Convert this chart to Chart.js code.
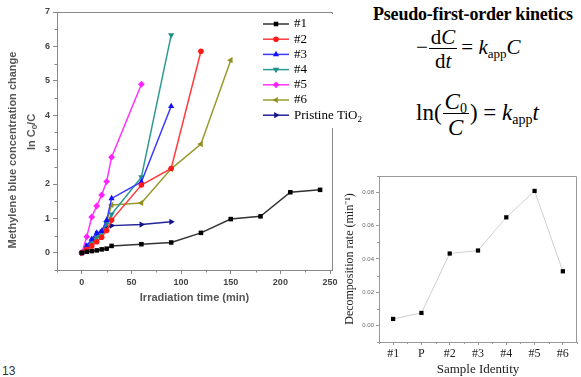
<!DOCTYPE html>
<html>
<head>
<meta charset="utf-8">
<script src="https://cdn.jsdelivr.net/npm/chart.js@4.4.1/dist/chart.umd.min.js"></script>
<style>
body{margin:0;width:581px;height:377px;background:#fff;position:relative;overflow:hidden;font-family:"Liberation Serif",serif;color:#000}
canvas{position:absolute}
#main{left:0;top:0}
#inset{left:340px;top:170px}
.eq{position:absolute;white-space:nowrap;font-family:"Liberation Serif",serif;font-size:21px;line-height:1}
.frac{display:inline-block;vertical-align:middle;text-align:center;margin:0 4px 0 1px}
.frac span{display:block;padding:0 2px}
.frac .den{border-top:1px solid #000;padding-top:2px}
sub{font-size:13px;vertical-align:-4px;line-height:0}
#eq2 sub{font-size:14px}
#title{position:absolute;left:373px;top:4px;font:bold 18px "Liberation Serif",serif;letter-spacing:-0.2px;white-space:nowrap}
#page{position:absolute;left:2px;top:364px;font:12px "Liberation Sans",sans-serif;color:#333}
</style>
</head>
<body>
<canvas id="main" width="370" height="315"></canvas>
<canvas id="inset" width="241" height="207"></canvas>
<div id="title">Pseudo-first-order kinetics</div>
<div class="eq" id="eq1" style="left:416px;top:27px">&minus;<span class="frac"><span>d<i>C</i></span><span class="den">d<i>t</i></span></span>= <i>k</i><sub>app</sub><i>C</i></div>
<div class="eq" id="eq2" style="left:416px;top:90px;font-size:23px">ln(<span class="frac" style="margin:0 1px"><span><i>C</i><sub>0</sub></span><span class="den"><i>C</i></span></span>) = <i>k</i><sub>app</sub><i>t</i></div>
<div id="page">13</div>
<script>
// main chart: ln(C0/C) vs irradiation time
var xTicks = [0, 50, 100, 150, 200, 250];
var yTicks = [0, 1, 2, 3, 4, 5, 6, 7];
var seriesNames = ['#1', '#2', '#3', '#4', '#5', '#6', 'Pristine TiO2'];

var t1 = [0, 5, 10, 15, 20, 25, 30, 60, 90, 120, 150, 180, 210, 240];
var s1 = [0, 0.03, 0.05, 0.07, 0.1, 0.12, 0.2, 0.25, 0.3, 0.58, 0.98, 1.06, 1.76, 1.83];
var t2 = [0, 5, 10, 15, 20, 25, 30, 60, 90, 120];
var s2 = [0, 0.1, 0.2, 0.32, 0.45, 0.65, 0.95, 1.97, 2.45, 5.86];
var t3 = [0, 5, 10, 15, 20, 25, 30, 60, 90];
var s3 = [0, 0.2, 0.4, 0.58, 0.63, 0.95, 1.58, 2.06, 4.26];
var t4 = [0, 5, 10, 15, 20, 25, 30, 60, 90];
var s4 = [0, 0.15, 0.3, 0.45, 0.6, 0.85, 1.12, 2.2, 6.33];
var t5 = [0, 5, 10, 15, 20, 25, 30, 60];
var s5 = [0, 0.47, 1.04, 1.36, 1.68, 2.07, 2.78, 4.9];
var t6 = [0, 5, 10, 15, 20, 25, 30, 60, 90, 120, 150];
var s6 = [0, 0.1, 0.25, 0.4, 0.6, 0.9, 1.39, 1.45, 2.44, 3.16, 5.6];
var tP = [0, 5, 10, 15, 20, 25, 30, 60, 90];
var sP = [0, 0.2, 0.35, 0.55, 0.6, 0.75, 0.79, 0.82, 0.9];

// inset: decomposition rate per sample
var samples = ['#1', 'P', '#2', '#3', '#4', '#5', '#6'];
var rates = [0.0039, 0.0075, 0.0433, 0.0451, 0.0651, 0.081, 0.0326];
var rateTicks = [0, 0.02, 0.04, 0.06, 0.08];

function pts(xs, ys) {
    var out = [];
    for (var i = 0; i < xs.length; i++) out.push({x: xs[i], y: ys[i]});
    return out;
}

function series(name, xs, ys, line, mark, style, rot, r) {
    return {
        label: name, data: pts(xs, ys),
        borderColor: line, backgroundColor: mark,
        pointBackgroundColor: mark, pointBorderWidth: 0,
        pointStyle: style, pointRotation: rot, pointRadius: r,
        borderWidth: 1.5, tension: 0
    };
}

var sans = '"Liberation Sans", Arial, sans-serif';
var serif = '"Liberation Serif", "Times New Roman", serif';

var mainDecor = {
    id: 'mainDecor',
    afterDraw: function (chart) {
        var ctx = chart.ctx, a = chart.chartArea;
        var xs = chart.scales.x, ys = chart.scales.y;
        ctx.save();
        ctx.strokeStyle = '#888';
        ctx.lineWidth = 1;
        ctx.beginPath();
        ctx.moveTo(a.left, a.top + 0.5);
        ctx.lineTo(a.right + 0.5, a.top + 0.5);
        ctx.lineTo(a.right + 0.5, a.bottom);
        ctx.stroke();
        // minor ticks
        ctx.beginPath();
        for (var v = -25; v <= 250; v += 50) {
            var px = Math.round(xs.getPixelForValue(v)) + 0.5;
            ctx.moveTo(px, a.bottom); ctx.lineTo(px, a.bottom + 2.5);
        }
        for (var w = -0.5; w <= 7; w += 1) {
            var py = Math.round(ys.getPixelForValue(w)) + 0.5;
            ctx.moveTo(a.left, py); ctx.lineTo(a.left - 2.5, py);
        }
        ctx.stroke();

        // legend box
        ctx.fillStyle = '#fff';
        ctx.fillRect(322, 14, 48, 114);
        chart.data.datasets.forEach(function (d, i) {
            var y = 24 + i * 15.2;
            ctx.strokeStyle = d.borderColor;
            ctx.lineWidth = 1.5;
            ctx.beginPath(); ctx.moveTo(263, y); ctx.lineTo(289, y); ctx.stroke();
            ctx.fillStyle = d.pointBackgroundColor;
            Chart.helpers.drawPoint(ctx, {pointStyle: d.pointStyle, rotation: d.pointRotation, radius: d.pointRadius, borderWidth: 0}, 276, y);
            ctx.fillStyle = '#000';
            ctx.textBaseline = 'middle';
            ctx.textAlign = 'left';
            ctx.font = '13px ' + serif;
            if (d.label.slice(-1) === '2' && d.label.indexOf('TiO') >= 0) {
                var base = d.label.slice(0, -1);
                ctx.fillText(base, 294, y);
                var wdt = ctx.measureText(base).width;
                ctx.font = '9px ' + serif;
                ctx.fillText('2', 294 + wdt, y + 4);
            } else {
                ctx.fillText(d.label, 294, y);
            }
        });

        // y axis title, two lines
        ctx.fillStyle = '#555';
        ctx.font = 'bold 11px ' + sans;
        ctx.textAlign = 'center';
        ctx.textBaseline = 'middle';
        ctx.save();
        ctx.translate(13, 150);
        ctx.rotate(-Math.PI / 2);
        ctx.fillText('Methylene blue concentration change', 0, 0);
        ctx.restore();
        ctx.save();
        ctx.translate(32, 132);
        ctx.rotate(-Math.PI / 2);
        ctx.textAlign = 'left';
        var p1 = 'ln C', p3 = '/C';
        var w1 = ctx.measureText(p1).width, w3 = ctx.measureText(p3).width;
        ctx.font = 'bold 8px ' + sans;
        var w2 = ctx.measureText('0').width;
        var x0 = -(w1 + w2 + w3) / 2;
        ctx.font = 'bold 11px ' + sans;
        ctx.fillText(p1, x0, 0);
        ctx.font = 'bold 8px ' + sans;
        ctx.fillText('0', x0 + w1, 3);
        ctx.font = 'bold 11px ' + sans;
        ctx.fillText(p3, x0 + w1 + w2, 0);
        ctx.restore();
        ctx.restore();
    }
};

var datasets = [
    series(seriesNames[0], t1, s1, '#333333', '#000000', 'rect', 0, 3.2),
    series(seriesNames[1], t2, s2, '#ff3b3b', '#ff1a1a', 'circle', 0, 2.8),
    series(seriesNames[2], t3, s3, '#3a3aff', '#1010ff', 'triangle', 0, 3.6),
    series(seriesNames[3], t4, s4, '#2f9a94', '#1f8f8a', 'triangle', 180, 3.6),
    series(seriesNames[4], t5, s5, '#ff33ff', '#ff22ff', 'rectRot', 0, 3.4),
    series(seriesNames[5], t6, s6, '#9a9a30', '#8f8f20', 'triangle', 270, 3.6),
    series(seriesNames[6], tP, sP, '#22229a', '#141488', 'triangle', 90, 3.6)
];

new Chart(document.getElementById('main').getContext('2d'), {
    type: 'line',
    data: {datasets: datasets},
    options: {
        responsive: false,
        animation: false,
        layout: {padding: {top: 12, right: 38, left: 0, bottom: 0}},
        plugins: {legend: {display: false}, tooltip: {enabled: false}},
        scales: {
            x: {
                type: 'linear', min: -25, max: 252,
                afterBuildTicks: function (s) { s.ticks = xTicks.map(function (v) { return {value: v}; }); },
                afterFit: function (s) { s.height = 45; },
                grid: {drawOnChartArea: false, tickLength: 4, color: '#888'},
                border: {color: '#888'},
                ticks: {font: {family: sans, weight: 'bold', size: 9}, color: '#444', padding: 3, maxRotation: 0},
                title: {display: true, text: 'Irradiation time (min)', color: '#555',
                    font: {family: sans, weight: 'bold', size: 11}, padding: {top: 0, bottom: 10}}
            },
            y: {
                type: 'linear', min: -0.5, max: 7,
                afterBuildTicks: function (s) { s.ticks = yTicks.map(function (v) { return {value: v}; }); },
                afterFit: function (s) { s.width = 57; },
                grid: {drawOnChartArea: false, tickLength: 4, color: '#888'},
                border: {color: '#888'},
                ticks: {font: {family: sans, weight: 'bold', size: 9}, color: '#444', padding: 3}
            }
        }
    },
    plugins: [mainDecor]
});

var insetDecor = {
    id: 'insetDecor',
    afterDraw: function (chart) {
        var ctx = chart.ctx, a = chart.chartArea;
        var xs = chart.scales.x, ys = chart.scales.y;
        ctx.save();
        ctx.strokeStyle = '#999';
        ctx.lineWidth = 1;
        ctx.beginPath();
        ctx.moveTo(a.left, a.top + 0.5);
        ctx.lineTo(a.right - 0.5, a.top + 0.5);
        ctx.lineTo(a.right - 0.5, a.bottom);
        ctx.stroke();
        ctx.beginPath();
        for (var i = 0; i <= samples.length; i++) {
            var px = Math.round(xs.getPixelForValue(i - 0.5)) + 0.5;
            ctx.moveTo(px, a.bottom); ctx.lineTo(px, a.bottom + 2);
        }
        for (var v = -0.01; v <= 0.0901; v += 0.02) {
            var py = Math.round(ys.getPixelForValue(v)) + 0.5;
            ctx.moveTo(a.left, py); ctx.lineTo(a.left - 2, py);
        }
        ctx.stroke();
        ctx.restore();
    }
};

new Chart(document.getElementById('inset').getContext('2d'), {
    type: 'line',
    data: {
        labels: samples,
        datasets: [{
            data: rates, borderColor: '#cfcfcf', borderWidth: 1,
            pointStyle: 'rect', pointRadius: 3, pointBorderWidth: 0,
            pointBackgroundColor: '#000', tension: 0
        }]
    },
    options: {
        responsive: false,
        animation: false,
        layout: {padding: {top: 6, right: 0, left: 0, bottom: 0}},
        plugins: {legend: {display: false}, tooltip: {enabled: false}},
        scales: {
            x: {
                type: 'category', offset: true,
                afterFit: function (s) { s.height = 35; },
                grid: {drawOnChartArea: false, offset: false, tickLength: 3, color: '#999'},
                border: {color: '#999'},
                ticks: {font: {family: serif, size: 12}, color: '#222', padding: 2, maxRotation: 0, autoSkip: false},
                title: {display: true, text: 'Sample Identity', color: '#222',
                    font: {family: serif, size: 13}, padding: {top: 0, bottom: 0}}
            },
            y: {
                type: 'linear', min: -0.01, max: 0.09,
                afterBuildTicks: function (s) { s.ticks = rateTicks.map(function (v) { return {value: v}; }); },
                afterFit: function (s) { s.width = 39; },
                grid: {drawOnChartArea: false, tickLength: 3, color: '#999'},
                border: {color: '#999'},
                ticks: {font: {family: sans, size: 6}, color: '#666', padding: 2,
                    callback: function (v) { return v.toFixed(2); }},
                title: {display: true, text: 'Decomposition rate (min\u207B\u00B9)', color: '#222',
                    font: {family: serif, size: 12}, padding: {top: 3, bottom: 0}}
            }
        }
    },
    plugins: [insetDecor]
});
</script>
</body>
</html>
